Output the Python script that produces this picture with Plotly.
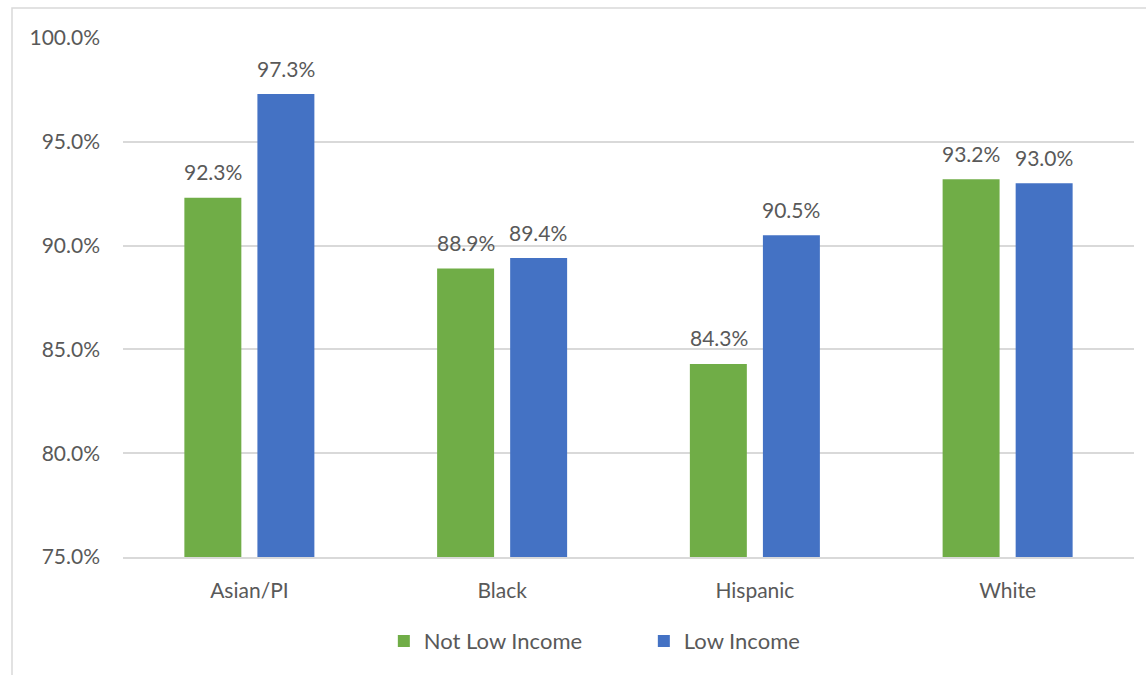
import plotly.graph_objects as go

categories = ["Asian/PI", "Black", "Hispanic", "White"]
not_low_income = [92.3, 88.9, 84.3, 93.2]
low_income = [97.3, 89.4, 90.5, 93.0]
y_ticks = [75, 80, 85, 90, 95, 100]

FONT = "Lato, 'Open Sans', sans-serif"
TEXT = "#595959"
SIZE = 21

fig = go.Figure()
fig.add_trace(go.Bar(
    name="Not Low Income", x=categories, y=not_low_income,
    marker=dict(color="#70AD47", line=dict(width=0)),
))
fig.add_trace(go.Bar(
    name="Low Income", x=categories, y=low_income,
    marker=dict(color="#4472C4", line=dict(width=0)),
))

# value labels floating above each bar
for vals, shift in ((not_low_income, -36.3), (low_income, 36.3)):
    for cat, v in zip(categories, vals):
        fig.add_annotation(x=cat, y=v, text=f"{v:.1f}%", showarrow=False,
                           xshift=shift, yshift=26, yanchor="middle",
                           font=dict(size=SIZE, color=TEXT, family=FONT))

# outer chart frame
fig.add_shape(type="rect", xref="paper", yref="paper",
              x0=-0.1098, x1=1.02, y0=-0.25, y1=1.0578,
              line=dict(color="#D9D9D9", width=1.5), fillcolor="rgba(0,0,0,0)",
              layer="below")

fig.update_layout(
    width=1146, height=675,
    margin=dict(l=123, r=12, t=38, b=118),
    paper_bgcolor="white", plot_bgcolor="white",
    barmode="group", bargap=0.422, bargroupgap=0.22,
    font=dict(family=FONT, size=SIZE, color=TEXT),
    showlegend=True,
    legend=dict(orientation="h", x=0.258, xanchor="left", y=-0.162, yanchor="middle",
                font=dict(size=22, color=TEXT, family=FONT),
                entrywidth=215, entrywidthmode="pixels", itemwidth=30,
                bgcolor="rgba(0,0,0,0)"),
)
fig.update_yaxes(range=[75, 100], tickvals=y_ticks,
                 ticktext=[f"{v:.1f}%" for v in y_ticks],
                 showgrid=True, gridcolor="#D9D9D9", gridwidth=1.5,
                 zeroline=False, showline=False, ticks="",
                 ticklabelstandoff=22,
                 tickfont=dict(size=SIZE, color=TEXT, family=FONT))
fig.update_xaxes(showline=True, linecolor="#D9D9D9", linewidth=1.5, ticks="",
                 ticklabelstandoff=14,
                 tickfont=dict(size=SIZE, color=TEXT, family=FONT))

fig.write_html("out.html")
